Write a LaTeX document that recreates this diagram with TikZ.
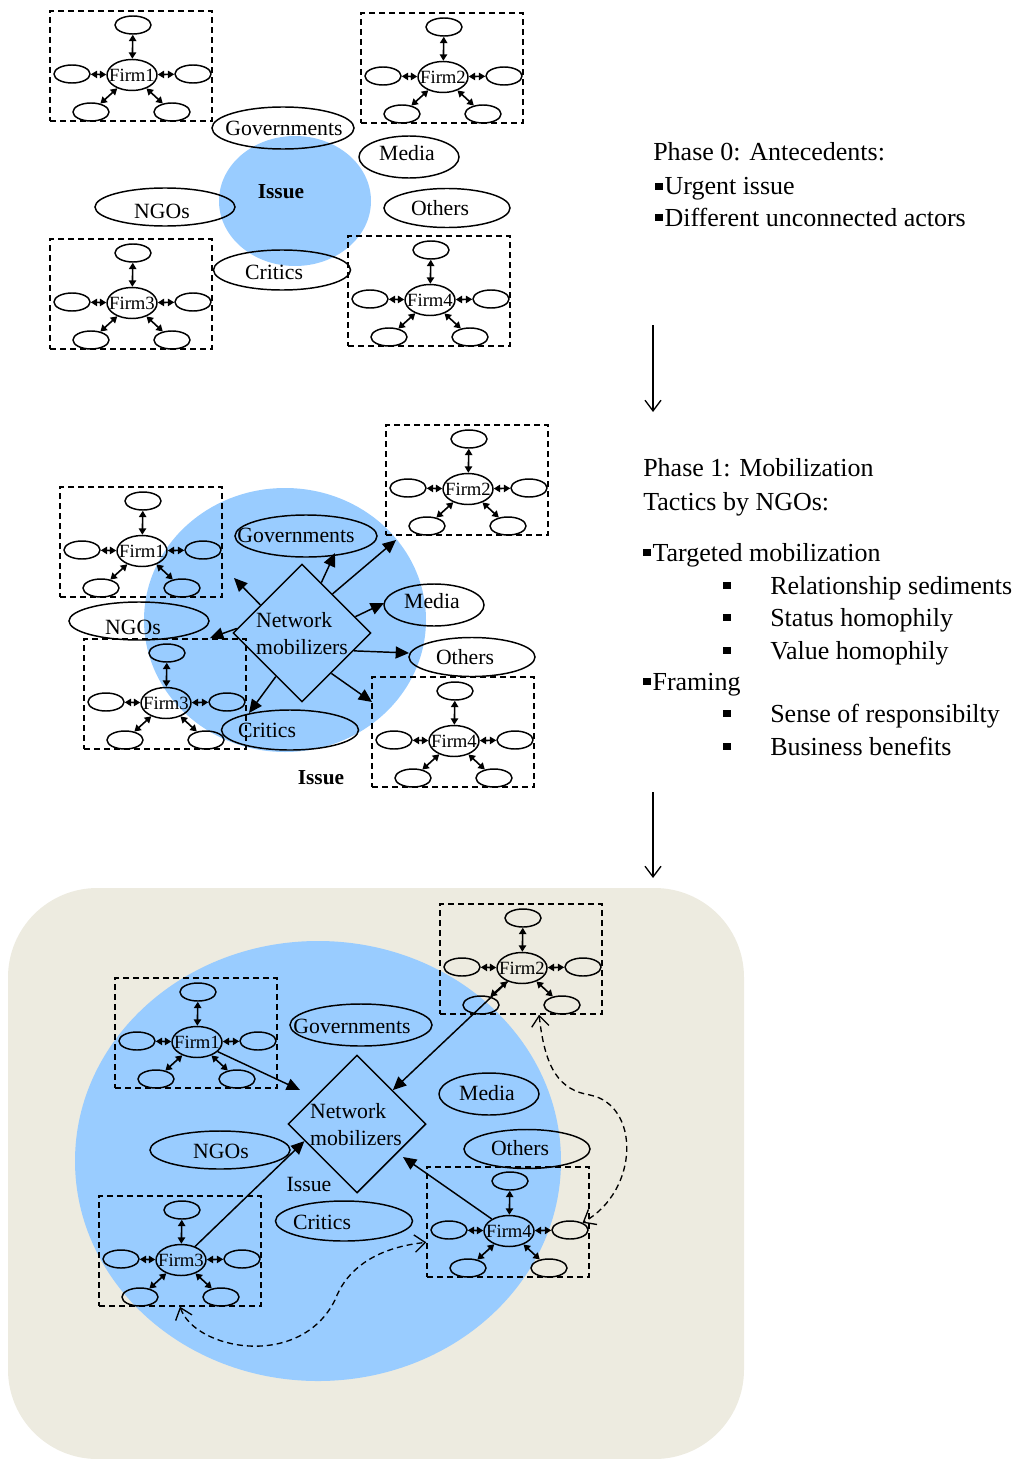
\documentclass[tikz,border=0pt]{standalone}
\usepackage{fontspec}
\setmainfont{Liberation Serif}
\usepackage{tikz}
\usetikzlibrary{arrows.meta,shapes.geometric}
\usepackage{xcolor}
\definecolor{issueblue}{RGB}{153,204,255}
\definecolor{fieldbeige}{RGB}{237,235,224}
\newcommand{\sqb}{\rule[0.2em]{0.28em}{0.28em}}

\begin{document}
\begin{tikzpicture}[x=0.75pt,y=0.75pt,yscale=-1,xscale=1,
  hub/.style={ellipse, draw, line width=1.1pt, inner sep=0pt, minimum width=37.5pt, minimum height=23.25pt, font=\fontsize{14}{16}\selectfont},
  sat/.style={ellipse, draw, line width=1.1pt, inner sep=0pt, minimum width=27pt, minimum height=13.5pt},
  firmbox/.style={draw, dash pattern=on 4.5pt off 3pt, line width=1pt, minimum width=121.5pt, minimum height=82.5pt, inner sep=0pt},
  actor/.style={ellipse, draw, line width=1.1pt, inner sep=0pt},
  govell/.style={actor, minimum width=106.5pt, minimum height=31.5pt},
  medell/.style={actor, minimum width=75pt, minimum height=31.5pt},
  othell/.style={actor, minimum width=94.5pt, minimum height=29.25pt},
  ngoell/.style={actor, minimum width=105pt, minimum height=28.5pt},
  criell/.style={actor, minimum width=102.75pt, minimum height=30pt},
  mobil/.style={diamond, draw, line width=1.1pt, inner sep=0pt, minimum width=103.5pt, minimum height=103.5pt},
  lbl/.style={inner sep=0.75pt, font=\fontsize{16.3}{20.25}\selectfont},
  phase/.style={anchor=base west, inner sep=0pt, font=\fontsize{19.5}{24}\selectfont},
  dbl/.style={{Triangle[length=4.8pt,width=5.5pt]}-{Triangle[length=4.8pt,width=5.5pt]}, line width=1.2pt},
  arr/.style={-{Triangle[length=10pt,width=9pt]}, line width=1.1pt},
  tie/.style={{Straight Barb[length=8pt,width=13pt]}-{Straight Barb[length=8pt,width=13pt]}, dash pattern=on 4.5pt off 3pt, line width=1pt},
  flow/.style={-{Straight Barb[length=8pt,width=12pt]}, line width=1pt}
]
\useasboundingbox (0,0) rectangle (1021,1459);

%Shape: Rectangle [field]
\fill[fieldbeige, rounded corners=67pt] (8,888) rectangle (744,1459);
%Shape: Ellipse [issue areas]
\fill[issueblue] (295,201) ellipse [x radius=76, y radius=65];
\fill[issueblue] (285,620) ellipse [x radius=141, y radius=132];
\fill[issueblue] (318,1161) ellipse [x radius=243, y radius=220];

%Firm clusters
\foreach \fn/\fl/\fx/\fy in {p0f1/Firm1/132/75, p0f2/Firm2/443/77, p0f3/Firm3/132/303, p0f4/Firm4/430/300,
    p1f1/Firm1/142/551, p1f2/Firm2/468/489, p1f3/Firm3/166/703, p1f4/Firm4/454/741,
    p2f1/Firm1/197/1042, p2f2/Firm2/522/968, p2f3/Firm3/181/1260, p2f4/Firm4/509/1231}{
  \node[firmbox] (\fn box) at (\fx-1,\fy-9) {};
  \node[hub] (\fn c) at (\fx,\fy) {\makebox[0pt]{\fl}};
  \node[sat] (\fn t) at (\fx+1,\fy-50) {};
  \node[sat] (\fn l) at (\fx-60,\fy-1) {};
  \node[sat] (\fn r) at (\fx+61,\fy-1) {};
  \node[sat] (\fn bl) at (\fx-41,\fy+37) {};
  \node[sat] (\fn br) at (\fx+40,\fy+37) {};
  \foreach \s in {t,l,r,bl,br}
    \draw[dbl] (\fn c) -- (\fn\s);
}

%Phase 0
\node[govell] (p0gov) at (283,128) {};
\node[medell] (p0med) at (409,157) {};
\node[othell] (p0oth) at (447,208) {};
\node[ngoell] (p0ngo) at (165,207) {};
\node[criell] (p0cri) at (282,270) {};
% Text Node
\draw (284,128) node[lbl] (p0govt) {Governments};
\draw (407,153) node[lbl] (p0medt) {Media};
\draw (440,208) node[lbl] (p0otht) {Others};
\draw (162,211) node[lbl] (p0ngot) {NGOs};
\draw (274,272) node[lbl] (p0crit) {Critics};
\draw (281,192) node[lbl, font=\fontsize{16}{20}\selectfont\bfseries] (p0iss) {Issue};

%Phase 1
\node[govell] (p1gov) at (306,536) {};
\node[medell] (p1med) at (434,605) {};
\node[othell] (p1oth) at (472,657) {};
\node[ngoell] (p1ngo) at (139,621) {};
\node[criell] (p1cri) at (290,730) {};
\node[mobil] (p1net) at (302,633) {};
% Text Node
\draw (296,535) node[lbl] (p1govt) {Governments};
\draw (432,601) node[lbl] (p1medt) {Media};
\draw (465,657) node[lbl] (p1otht) {Others};
\draw (133,627) node[lbl] (p1ngot) {NGOs};
\draw (267,730) node[lbl] (p1crit) {Critics};
\draw (302,634) node[lbl, align=left] (p1nett) {Network\\mobilizers};
\draw (321,778) node[lbl, font=\fontsize{16}{20}\selectfont\bfseries] (p1iss) {Issue};
%Straight Lines [mobilization]
\coordinate (p1e1) at (234,578);
\coordinate (p1e2) at (335,553);
\coordinate (p1e3) at (396,540);
\coordinate (p1e4) at (384,603);
\coordinate (p1e5) at (409,653);
\coordinate (p1e6) at (372,702);
\coordinate (p1e7) at (249,713);
\coordinate (p1e8) at (210,638);
\draw[arr] (p1net.146) -- (p1e1);
\draw[arr] (p1net.69) -- (p1e2);
\draw[arr] (p1net.52) -- (p1e3);
\draw[arr] (p1net.17) -- (p1e4);
\draw[arr] (p1net.-19) -- (p1e5);
\draw[arr] (p1net.-54) -- (p1e6);
\draw[arr] (p1net.-121) -- (p1e7);
\draw[arr] (p1net.176) -- (p1e8);

%Phase 2
\node[govell] (p2gov) at (361,1025) {};
\node[medell] (p2med) at (489,1094) {};
\node[othell] (p2oth) at (527,1149) {};
\node[ngoell] (p2ngo) at (220,1150) {};
\node[criell] (p2cri) at (344,1221) {};
\node[mobil] (p2net) at (357,1124) {};
% Text Node
\draw (352,1026) node[lbl] (p2govt) {Governments};
\draw (487,1093) node[lbl] (p2medt) {Media};
\draw (520,1148) node[lbl] (p2otht) {Others};
\draw (221,1151) node[lbl] (p2ngot) {NGOs};
\draw (322,1222) node[lbl] (p2crit) {Critics};
\draw (356,1125) node[lbl, align=left] (p2nett) {Network\\mobilizers};
\draw (309,1184) node[lbl] (p2iss) {Issue};
%Straight Lines [firms to mobilizers]
\coordinate (p2e1) at (300,1090);
\coordinate (p2e4) at (403,1157);
\draw[arr] (p2f1c) -- (p2e1);
\draw[arr] (p2f2c) -- (p2net);
\draw[arr] (p2f3c) -- (p2net.198);
\draw[arr] (p2f4c) -- (p2e4);
%Curve Lines [firm ties]
\draw[tie] (p2f3box.south) .. controls (195,1350) and (300,1370) .. (335,1300) .. controls (350,1260) and (390,1246) .. (p2f4box.194);
\draw[tie] (p2f2box.-72) .. controls (545,1070) and (560,1090) .. (590,1095) .. controls (640,1105) and (640,1190) .. (p2f4r.30);

%Phase texts
\node[phase] (ph0a) at (653,161) {Phase 0: Antecedents:};
\node[phase] (ph0b) at (655,195) {\sqb\hspace{1.5pt}Urgent issue};
\node[phase] (ph0c) at (655,226) {\sqb\hspace{1.5pt}Different unconnected actors};
\node[phase] (ph1a) at (643,476) {Phase 1: Mobilization};
\node[phase] (ph1b) at (643,510) {Tactics by NGOs:};
\node[phase] (ph1c) at (643,561) {\sqb\hspace{1.5pt}Targeted mobilization};
\node[phase] (ph1d) at (723,594) {\makebox[35.25pt][l]{\sqb}Relationship sediments};
\node[phase] (ph1e) at (723,626) {\makebox[35.25pt][l]{\sqb}Status homophily};
\node[phase] (ph1f) at (723,659) {\makebox[35.25pt][l]{\sqb}Value homophily};
\node[phase] (ph1g) at (643,690) {\sqb\hspace{1.5pt}Framing};
\node[phase] (ph1h) at (723,722) {\makebox[35.25pt][l]{\sqb}Sense of responsibilty};
\node[phase] (ph1i) at (723,755) {\makebox[35.25pt][l]{\sqb}Business benefits};

%Straight Lines [phase steps]
\coordinate (st0a) at (653,325);
\coordinate (st0b) at (653,412);
\coordinate (st1a) at (653,792);
\coordinate (st1b) at (653,878);
\draw[flow] (st0a) -- (st0b);
\draw[flow] (st1a) -- (st1b);

\end{tikzpicture}
\end{document}
